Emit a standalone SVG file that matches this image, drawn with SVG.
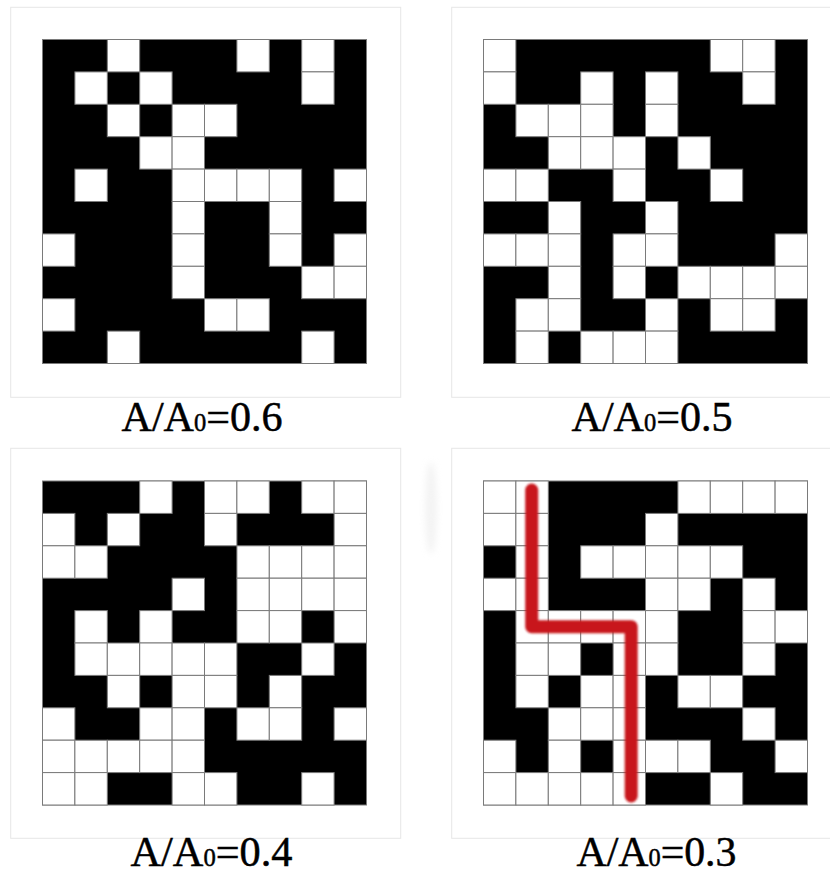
<svg xmlns="http://www.w3.org/2000/svg" width="830" height="871" viewBox="0 0 830 871">
<defs>
<style>
.panel{fill:#ffffff;stroke:#e6e6e6;stroke-width:1}
.grid{fill:#000000;stroke:#7a7a7a;stroke-width:1}
.w{fill:#ffffff;stroke:#7a7a7a;stroke-width:1}
.lbl{font-family:"Liberation Serif","Times New Roman",serif;font-size:43px;fill:#000000;stroke:#000000;stroke-width:0.5}
.sub{font-size:25px}
</style>
<filter id="soft" x="-20%" y="-20%" width="140%" height="140%"><feGaussianBlur stdDeviation="1.3"/></filter>
<filter id="faint" x="-50%" y="-50%" width="200%" height="200%"><feGaussianBlur stdDeviation="3"/></filter>
</defs>
<rect width="830" height="871" fill="#ffffff"/>
<rect class="panel" x="10.7" y="7.3" width="390" height="390"/>
<rect class="panel" x="451.7" y="7.3" width="390" height="390"/>
<rect class="panel" x="10.7" y="448.3" width="390" height="390"/>
<rect class="panel" x="451.7" y="448.3" width="390" height="390"/>
<ellipse cx="431" cy="508" rx="6" ry="46" fill="#e8e8e8" opacity="0.5" filter="url(#faint)"/>

<g id="grid1" transform="translate(42.5,39.5)">
<rect class="grid" x="0" y="0" width="324" height="324"/>
<rect class="w" x="64.8" y="0" width="32.4" height="32.4"/>
<rect class="w" x="194.4" y="0" width="32.4" height="32.4"/>
<rect class="w" x="259.2" y="0" width="32.4" height="32.4"/>
<rect class="w" x="32.4" y="32.4" width="32.4" height="32.4"/>
<rect class="w" x="97.2" y="32.4" width="32.4" height="32.4"/>
<rect class="w" x="259.2" y="32.4" width="32.4" height="32.4"/>
<rect class="w" x="64.8" y="64.8" width="32.4" height="32.4"/>
<rect class="w" x="129.6" y="64.8" width="32.4" height="32.4"/>
<rect class="w" x="162" y="64.8" width="32.4" height="32.4"/>
<rect class="w" x="97.2" y="97.2" width="32.4" height="32.4"/>
<rect class="w" x="129.6" y="97.2" width="32.4" height="32.4"/>
<rect class="w" x="32.4" y="129.6" width="32.4" height="32.4"/>
<rect class="w" x="129.6" y="129.6" width="32.4" height="32.4"/>
<rect class="w" x="162" y="129.6" width="32.4" height="32.4"/>
<rect class="w" x="194.4" y="129.6" width="32.4" height="32.4"/>
<rect class="w" x="226.8" y="129.6" width="32.4" height="32.4"/>
<rect class="w" x="291.6" y="129.6" width="32.4" height="32.4"/>
<rect class="w" x="129.6" y="162" width="32.4" height="32.4"/>
<rect class="w" x="226.8" y="162" width="32.4" height="32.4"/>
<rect class="w" x="0" y="194.4" width="32.4" height="32.4"/>
<rect class="w" x="129.6" y="194.4" width="32.4" height="32.4"/>
<rect class="w" x="226.8" y="194.4" width="32.4" height="32.4"/>
<rect class="w" x="291.6" y="194.4" width="32.4" height="32.4"/>
<rect class="w" x="129.6" y="226.8" width="32.4" height="32.4"/>
<rect class="w" x="259.2" y="226.8" width="32.4" height="32.4"/>
<rect class="w" x="291.6" y="226.8" width="32.4" height="32.4"/>
<rect class="w" x="0" y="259.2" width="32.4" height="32.4"/>
<rect class="w" x="162" y="259.2" width="32.4" height="32.4"/>
<rect class="w" x="194.4" y="259.2" width="32.4" height="32.4"/>
<rect class="w" x="64.8" y="291.6" width="32.4" height="32.4"/>
<rect class="w" x="259.2" y="291.6" width="32.4" height="32.4"/>
</g>

<g id="grid2" transform="translate(483.5,39.5)">
<rect class="grid" x="0" y="0" width="324" height="324"/>
<rect class="w" x="0" y="0" width="32.4" height="32.4"/>
<rect class="w" x="226.8" y="0" width="32.4" height="32.4"/>
<rect class="w" x="259.2" y="0" width="32.4" height="32.4"/>
<rect class="w" x="0" y="32.4" width="32.4" height="32.4"/>
<rect class="w" x="97.2" y="32.4" width="32.4" height="32.4"/>
<rect class="w" x="162" y="32.4" width="32.4" height="32.4"/>
<rect class="w" x="259.2" y="32.4" width="32.4" height="32.4"/>
<rect class="w" x="32.4" y="64.8" width="32.4" height="32.4"/>
<rect class="w" x="64.8" y="64.8" width="32.4" height="32.4"/>
<rect class="w" x="97.2" y="64.8" width="32.4" height="32.4"/>
<rect class="w" x="162" y="64.8" width="32.4" height="32.4"/>
<rect class="w" x="64.8" y="97.2" width="32.4" height="32.4"/>
<rect class="w" x="97.2" y="97.2" width="32.4" height="32.4"/>
<rect class="w" x="129.6" y="97.2" width="32.4" height="32.4"/>
<rect class="w" x="194.4" y="97.2" width="32.4" height="32.4"/>
<rect class="w" x="0" y="129.6" width="32.4" height="32.4"/>
<rect class="w" x="32.4" y="129.6" width="32.4" height="32.4"/>
<rect class="w" x="129.6" y="129.6" width="32.4" height="32.4"/>
<rect class="w" x="226.8" y="129.6" width="32.4" height="32.4"/>
<rect class="w" x="64.8" y="162" width="32.4" height="32.4"/>
<rect class="w" x="162" y="162" width="32.4" height="32.4"/>
<rect class="w" x="0" y="194.4" width="32.4" height="32.4"/>
<rect class="w" x="32.4" y="194.4" width="32.4" height="32.4"/>
<rect class="w" x="64.8" y="194.4" width="32.4" height="32.4"/>
<rect class="w" x="129.6" y="194.4" width="32.4" height="32.4"/>
<rect class="w" x="162" y="194.4" width="32.4" height="32.4"/>
<rect class="w" x="291.6" y="194.4" width="32.4" height="32.4"/>
<rect class="w" x="64.8" y="226.8" width="32.4" height="32.4"/>
<rect class="w" x="129.6" y="226.8" width="32.4" height="32.4"/>
<rect class="w" x="194.4" y="226.8" width="32.4" height="32.4"/>
<rect class="w" x="226.8" y="226.8" width="32.4" height="32.4"/>
<rect class="w" x="259.2" y="226.8" width="32.4" height="32.4"/>
<rect class="w" x="291.6" y="226.8" width="32.4" height="32.4"/>
<rect class="w" x="32.4" y="259.2" width="32.4" height="32.4"/>
<rect class="w" x="64.8" y="259.2" width="32.4" height="32.4"/>
<rect class="w" x="162" y="259.2" width="32.4" height="32.4"/>
<rect class="w" x="226.8" y="259.2" width="32.4" height="32.4"/>
<rect class="w" x="259.2" y="259.2" width="32.4" height="32.4"/>
<rect class="w" x="32.4" y="291.6" width="32.4" height="32.4"/>
<rect class="w" x="97.2" y="291.6" width="32.4" height="32.4"/>
<rect class="w" x="129.6" y="291.6" width="32.4" height="32.4"/>
<rect class="w" x="162" y="291.6" width="32.4" height="32.4"/>
</g>

<g id="grid3" transform="translate(42.5,481)">
<rect class="grid" x="0" y="0" width="324" height="324"/>
<rect class="w" x="97.2" y="0" width="32.4" height="32.4"/>
<rect class="w" x="162" y="0" width="32.4" height="32.4"/>
<rect class="w" x="194.4" y="0" width="32.4" height="32.4"/>
<rect class="w" x="259.2" y="0" width="32.4" height="32.4"/>
<rect class="w" x="291.6" y="0" width="32.4" height="32.4"/>
<rect class="w" x="0" y="32.4" width="32.4" height="32.4"/>
<rect class="w" x="64.8" y="32.4" width="32.4" height="32.4"/>
<rect class="w" x="162" y="32.4" width="32.4" height="32.4"/>
<rect class="w" x="291.6" y="32.4" width="32.4" height="32.4"/>
<rect class="w" x="0" y="64.8" width="32.4" height="32.4"/>
<rect class="w" x="32.4" y="64.8" width="32.4" height="32.4"/>
<rect class="w" x="194.4" y="64.8" width="32.4" height="32.4"/>
<rect class="w" x="226.8" y="64.8" width="32.4" height="32.4"/>
<rect class="w" x="259.2" y="64.8" width="32.4" height="32.4"/>
<rect class="w" x="291.6" y="64.8" width="32.4" height="32.4"/>
<rect class="w" x="129.6" y="97.2" width="32.4" height="32.4"/>
<rect class="w" x="194.4" y="97.2" width="32.4" height="32.4"/>
<rect class="w" x="226.8" y="97.2" width="32.4" height="32.4"/>
<rect class="w" x="259.2" y="97.2" width="32.4" height="32.4"/>
<rect class="w" x="291.6" y="97.2" width="32.4" height="32.4"/>
<rect class="w" x="32.4" y="129.6" width="32.4" height="32.4"/>
<rect class="w" x="97.2" y="129.6" width="32.4" height="32.4"/>
<rect class="w" x="194.4" y="129.6" width="32.4" height="32.4"/>
<rect class="w" x="226.8" y="129.6" width="32.4" height="32.4"/>
<rect class="w" x="291.6" y="129.6" width="32.4" height="32.4"/>
<rect class="w" x="32.4" y="162" width="32.4" height="32.4"/>
<rect class="w" x="64.8" y="162" width="32.4" height="32.4"/>
<rect class="w" x="97.2" y="162" width="32.4" height="32.4"/>
<rect class="w" x="129.6" y="162" width="32.4" height="32.4"/>
<rect class="w" x="162" y="162" width="32.4" height="32.4"/>
<rect class="w" x="259.2" y="162" width="32.4" height="32.4"/>
<rect class="w" x="64.8" y="194.4" width="32.4" height="32.4"/>
<rect class="w" x="129.6" y="194.4" width="32.4" height="32.4"/>
<rect class="w" x="162" y="194.4" width="32.4" height="32.4"/>
<rect class="w" x="226.8" y="194.4" width="32.4" height="32.4"/>
<rect class="w" x="0" y="226.8" width="32.4" height="32.4"/>
<rect class="w" x="97.2" y="226.8" width="32.4" height="32.4"/>
<rect class="w" x="129.6" y="226.8" width="32.4" height="32.4"/>
<rect class="w" x="194.4" y="226.8" width="32.4" height="32.4"/>
<rect class="w" x="226.8" y="226.8" width="32.4" height="32.4"/>
<rect class="w" x="291.6" y="226.8" width="32.4" height="32.4"/>
<rect class="w" x="0" y="259.2" width="32.4" height="32.4"/>
<rect class="w" x="32.4" y="259.2" width="32.4" height="32.4"/>
<rect class="w" x="64.8" y="259.2" width="32.4" height="32.4"/>
<rect class="w" x="97.2" y="259.2" width="32.4" height="32.4"/>
<rect class="w" x="129.6" y="259.2" width="32.4" height="32.4"/>
<rect class="w" x="0" y="291.6" width="32.4" height="32.4"/>
<rect class="w" x="32.4" y="291.6" width="32.4" height="32.4"/>
<rect class="w" x="129.6" y="291.6" width="32.4" height="32.4"/>
<rect class="w" x="162" y="291.6" width="32.4" height="32.4"/>
<rect class="w" x="259.2" y="291.6" width="32.4" height="32.4"/>
</g>

<g id="grid4" transform="translate(483.5,481)">
<rect class="grid" x="0" y="0" width="324" height="324"/>
<rect class="w" x="0" y="0" width="32.4" height="32.4"/>
<rect class="w" x="32.4" y="0" width="32.4" height="32.4"/>
<rect class="w" x="194.4" y="0" width="32.4" height="32.4"/>
<rect class="w" x="226.8" y="0" width="32.4" height="32.4"/>
<rect class="w" x="259.2" y="0" width="32.4" height="32.4"/>
<rect class="w" x="291.6" y="0" width="32.4" height="32.4"/>
<rect class="w" x="0" y="32.4" width="32.4" height="32.4"/>
<rect class="w" x="32.4" y="32.4" width="32.4" height="32.4"/>
<rect class="w" x="162" y="32.4" width="32.4" height="32.4"/>
<rect class="w" x="32.4" y="64.8" width="32.4" height="32.4"/>
<rect class="w" x="97.2" y="64.8" width="32.4" height="32.4"/>
<rect class="w" x="129.6" y="64.8" width="32.4" height="32.4"/>
<rect class="w" x="162" y="64.8" width="32.4" height="32.4"/>
<rect class="w" x="194.4" y="64.8" width="32.4" height="32.4"/>
<rect class="w" x="226.8" y="64.8" width="32.4" height="32.4"/>
<rect class="w" x="0" y="97.2" width="32.4" height="32.4"/>
<rect class="w" x="32.4" y="97.2" width="32.4" height="32.4"/>
<rect class="w" x="162" y="97.2" width="32.4" height="32.4"/>
<rect class="w" x="194.4" y="97.2" width="32.4" height="32.4"/>
<rect class="w" x="259.2" y="97.2" width="32.4" height="32.4"/>
<rect class="w" x="32.4" y="129.6" width="32.4" height="32.4"/>
<rect class="w" x="64.8" y="129.6" width="32.4" height="32.4"/>
<rect class="w" x="97.2" y="129.6" width="32.4" height="32.4"/>
<rect class="w" x="129.6" y="129.6" width="32.4" height="32.4"/>
<rect class="w" x="162" y="129.6" width="32.4" height="32.4"/>
<rect class="w" x="259.2" y="129.6" width="32.4" height="32.4"/>
<rect class="w" x="291.6" y="129.6" width="32.4" height="32.4"/>
<rect class="w" x="32.4" y="162" width="32.4" height="32.4"/>
<rect class="w" x="64.8" y="162" width="32.4" height="32.4"/>
<rect class="w" x="129.6" y="162" width="32.4" height="32.4"/>
<rect class="w" x="162" y="162" width="32.4" height="32.4"/>
<rect class="w" x="259.2" y="162" width="32.4" height="32.4"/>
<rect class="w" x="32.4" y="194.4" width="32.4" height="32.4"/>
<rect class="w" x="97.2" y="194.4" width="32.4" height="32.4"/>
<rect class="w" x="129.6" y="194.4" width="32.4" height="32.4"/>
<rect class="w" x="194.4" y="194.4" width="32.4" height="32.4"/>
<rect class="w" x="226.8" y="194.4" width="32.4" height="32.4"/>
<rect class="w" x="64.8" y="226.8" width="32.4" height="32.4"/>
<rect class="w" x="97.2" y="226.8" width="32.4" height="32.4"/>
<rect class="w" x="129.6" y="226.8" width="32.4" height="32.4"/>
<rect class="w" x="259.2" y="226.8" width="32.4" height="32.4"/>
<rect class="w" x="0" y="259.2" width="32.4" height="32.4"/>
<rect class="w" x="64.8" y="259.2" width="32.4" height="32.4"/>
<rect class="w" x="129.6" y="259.2" width="32.4" height="32.4"/>
<rect class="w" x="162" y="259.2" width="32.4" height="32.4"/>
<rect class="w" x="194.4" y="259.2" width="32.4" height="32.4"/>
<rect class="w" x="291.6" y="259.2" width="32.4" height="32.4"/>
<rect class="w" x="0" y="291.6" width="32.4" height="32.4"/>
<rect class="w" x="32.4" y="291.6" width="32.4" height="32.4"/>
<rect class="w" x="64.8" y="291.6" width="32.4" height="32.4"/>
<rect class="w" x="97.2" y="291.6" width="32.4" height="32.4"/>
<rect class="w" x="129.6" y="291.6" width="32.4" height="32.4"/>
<rect class="w" x="226.8" y="291.6" width="32.4" height="32.4"/>
</g>

<g id="connectors">
<path d="M531.7,490 L531.7,626.7 L631.2,626.7 L631.2,796" fill="none" stroke="#c8191e" stroke-width="13" stroke-linecap="round" stroke-linejoin="round" filter="url(#soft)"/>
</g>

<g id="labels">
<text class="lbl" x="121.5" y="431" textLength="161" lengthAdjust="spacingAndGlyphs">A/A<tspan class="sub">0</tspan>=0.6</text>
<text class="lbl" x="571.5" y="431" textLength="161" lengthAdjust="spacingAndGlyphs">A/A<tspan class="sub">0</tspan>=0.5</text>
<text class="lbl" x="130.5" y="866" textLength="162" lengthAdjust="spacingAndGlyphs">A/A<tspan class="sub">0</tspan>=0.4</text>
<text class="lbl" x="576.5" y="866" textLength="160" lengthAdjust="spacingAndGlyphs">A/A<tspan class="sub">0</tspan>=0.3</text>
</g>
</svg>
